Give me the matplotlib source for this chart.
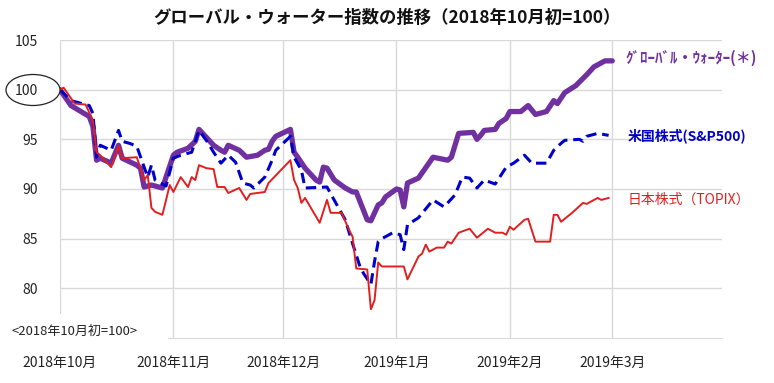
#!/usr/bin/env python3
"""Global water index vs. S&P500 / TOPIX, rebased to 100 at the start of Oct 2018."""

import matplotlib

matplotlib.use("Agg")
import matplotlib.pyplot as plt
from matplotlib.patches import Ellipse, Rectangle
import pandas as pd

plt.rcParams["font.family"] = ["Noto Sans CJK JP", "DejaVu Sans"]

GW_DATES = [
    "2018-10-01", "2018-10-04", "2018-10-09", "2018-10-10", "2018-10-11", "2018-10-12",
    "2018-10-15", "2018-10-17", "2018-10-18", "2018-10-22", "2018-10-23", "2018-10-24",
    "2018-10-26", "2018-10-29", "2018-11-01", "2018-11-02", "2018-11-05", "2018-11-07",
    "2018-11-08", "2018-11-09", "2018-11-12", "2018-11-14", "2018-11-15", "2018-11-16",
    "2018-11-19", "2018-11-21", "2018-11-24", "2018-11-26", "2018-11-27", "2018-11-28",
    "2018-11-29", "2018-12-03", "2018-12-04", "2018-12-05", "2018-12-07", "2018-12-10",
    "2018-12-11", "2018-12-12", "2018-12-13", "2018-12-15", "2018-12-18", "2018-12-20",
    "2018-12-21", "2018-12-24", "2018-12-25", "2018-12-27", "2018-12-28", "2018-12-29",
    "2019-01-01", "2019-01-02", "2019-01-03", "2019-01-04", "2019-01-07", "2019-01-11",
    "2019-01-15", "2019-01-16", "2019-01-18", "2019-01-22", "2019-01-23", "2019-01-24",
    "2019-01-25", "2019-01-28", "2019-01-29", "2019-01-31", "2019-02-01", "2019-02-04",
    "2019-02-06", "2019-02-08", "2019-02-11", "2019-02-13", "2019-02-14", "2019-02-16",
    "2019-02-19", "2019-02-22", "2019-02-24", "2019-02-27", "2019-03-01",
]
GW_VALUES = [
    100.0, 98.4, 97.3, 96.3, 92.9, 93.1,
    92.6, 94.4, 93.1, 92.4, 92.1, 90.2,
    90.4, 90.1, 93.4, 93.7, 94.1, 94.8,
    96.0, 95.6, 94.4, 93.9, 93.7, 94.4,
    93.9, 93.2, 93.4, 93.9, 94.0, 94.8,
    95.3, 96.0, 93.7, 93.2, 92.1, 90.9,
    90.7, 92.2, 92.1, 90.9, 90.1, 89.7,
    89.7, 86.9, 86.8, 88.4, 88.6, 89.2,
    90.0, 89.9, 88.2, 90.6, 91.1, 93.2,
    92.9, 93.2, 95.6, 95.7, 95.0, 95.4,
    95.9, 96.0, 96.6, 97.1, 97.8, 97.8,
    98.4, 97.5, 97.8, 98.9, 98.6, 99.7,
    100.4, 101.5, 102.3, 102.9, 102.9,
]

SP_DATES = [
    "2018-10-01", "2018-10-04", "2018-10-09", "2018-10-10", "2018-10-11", "2018-10-12",
    "2018-10-15", "2018-10-17", "2018-10-18", "2018-10-20", "2018-10-22", "2018-10-24",
    "2018-10-25", "2018-10-26", "2018-10-27", "2018-10-30", "2018-11-01", "2018-11-03",
    "2018-11-06", "2018-11-08", "2018-11-10", "2018-11-12", "2018-11-14", "2018-11-16",
    "2018-11-18", "2018-11-20", "2018-11-22", "2018-11-23", "2018-11-26", "2018-11-28",
    "2018-11-29", "2018-12-03", "2018-12-04", "2018-12-06", "2018-12-07", "2018-12-13",
    "2018-12-16", "2018-12-18", "2018-12-20", "2018-12-22", "2018-12-23", "2018-12-25",
    "2018-12-26", "2018-12-27", "2018-12-28", "2018-12-31", "2019-01-02", "2019-01-03",
    "2019-01-04", "2019-01-07", "2019-01-11", "2019-01-14", "2019-01-17", "2019-01-19",
    "2019-01-21", "2019-01-23", "2019-01-25", "2019-01-28", "2019-01-31", "2019-02-02",
    "2019-02-05", "2019-02-07", "2019-02-11", "2019-02-13", "2019-02-15", "2019-02-16",
    "2019-02-20", "2019-02-21", "2019-02-22", "2019-02-25", "2019-02-28",
]
SP_VALUES = [
    100.0, 98.9, 98.4, 97.6, 93.2, 94.4,
    93.9, 95.9, 94.8, 94.6, 94.3, 92.2,
    91.2, 92.4, 90.9, 90.3, 93.1, 93.4,
    93.7, 95.9, 94.9, 93.7, 92.6, 93.4,
    92.7, 90.6, 90.4, 90.1, 91.2, 92.9,
    93.9, 95.3, 93.2, 91.9, 90.1, 90.2,
    88.2, 86.9, 84.5, 82.2, 81.5, 80.4,
    82.7, 84.7, 85.0, 85.6, 85.4, 83.9,
    86.4, 87.1, 88.9, 88.2, 89.4, 91.2,
    91.1, 90.1, 90.9, 90.5, 92.2, 92.6,
    93.4, 92.6, 92.6, 93.9, 94.6, 94.9,
    95.0, 94.8, 95.3, 95.6, 95.4,
]

TOPIX_DATES = [
    "2018-10-01", "2018-10-02", "2018-10-05", "2018-10-08", "2018-10-10", "2018-10-11",
    "2018-10-12", "2018-10-15", "2018-10-17", "2018-10-18", "2018-10-22", "2018-10-24",
    "2018-10-25", "2018-10-26", "2018-10-27", "2018-10-29", "2018-10-31", "2018-11-01",
    "2018-11-03", "2018-11-05", "2018-11-06", "2018-11-07", "2018-11-08", "2018-11-10",
    "2018-11-12", "2018-11-13", "2018-11-15", "2018-11-16", "2018-11-19", "2018-11-21",
    "2018-11-22", "2018-11-26", "2018-11-27", "2018-12-03", "2018-12-04", "2018-12-05",
    "2018-12-06", "2018-12-07", "2018-12-11", "2018-12-13", "2018-12-14", "2018-12-17",
    "2018-12-19", "2018-12-20", "2018-12-21", "2018-12-24", "2018-12-25", "2018-12-26",
    "2018-12-27", "2018-12-28", "2019-01-03", "2019-01-04", "2019-01-07", "2019-01-08",
    "2019-01-09", "2019-01-10", "2019-01-12", "2019-01-14", "2019-01-15", "2019-01-16",
    "2019-01-18", "2019-01-21", "2019-01-23", "2019-01-26", "2019-01-28", "2019-01-30",
    "2019-01-31", "2019-02-01", "2019-02-02", "2019-02-05", "2019-02-06", "2019-02-08",
    "2019-02-12", "2019-02-13", "2019-02-14", "2019-02-15", "2019-02-18", "2019-02-21",
    "2019-02-22", "2019-02-25", "2019-02-26", "2019-02-28",
]
TOPIX_VALUES = [
    100.0, 100.2, 98.6, 98.5, 96.9, 93.7,
    93.4, 92.2, 94.3, 93.1, 93.2, 90.9,
    91.4, 88.1, 87.7, 87.4, 90.4, 89.7,
    91.2, 90.2, 91.2, 90.9, 92.4, 92.1,
    92.0, 90.2, 90.2, 89.6, 90.1, 88.9,
    89.5, 89.7, 90.6, 92.9, 90.9, 90.1,
    88.6, 89.1, 86.6, 88.9, 87.6, 87.6,
    85.9, 85.2, 82.0, 81.9, 77.9, 78.8,
    82.6, 82.2, 82.2, 80.9, 83.2, 83.5,
    84.4, 83.7, 84.1, 84.1, 84.7, 84.5,
    85.6, 86.0, 85.1, 86.0, 85.6, 85.6,
    85.4, 86.2, 85.9, 86.9, 87.0, 84.7,
    84.7, 87.4, 87.4, 86.7, 87.6, 88.6,
    88.5, 89.1, 88.9, 89.1,
]

MONTHS = ["2018-10-01", "2018-11-01", "2018-12-01", "2019-01-01", "2019-02-01", "2019-03-01"]
MONTH_LABELS = ["2018年10月", "2018年11月", "2018年12月", "2019年1月", "2019年2月", "2019年3月"]
Y_TICKS = [80, 85, 90, 95, 100, 105]

GW_LABEL = "ｸﾞﾛｰﾊﾞﾙ・ｳｫｰﾀｰ(＊)"
SP_LABEL = "米国株式(S&P500)"
TOPIX_LABEL = "日本株式（TOPIX）"

PURPLE = "#7030A0"
BLUE = "#0000C8"
RED = "#E02020"
GRID = "#D9D9D9"

W, H = 774, 383


def main() -> None:
    fig = plt.figure(figsize=(W / 100, H / 100), dpi=100)
    ax = fig.add_axes([60 / W, 1 - 338 / H, (722 - 60) / W, (338 - 40) / H])

    ax.plot(pd.to_datetime(GW_DATES), GW_VALUES, color=PURPLE, lw=3.8,
            solid_joinstyle="round", solid_capstyle="round", zorder=3)
    ax.plot(pd.to_datetime(SP_DATES), SP_VALUES, color=BLUE, lw=2.2,
            dashes=(3.4, 1.9), zorder=4)
    ax.plot(pd.to_datetime(TOPIX_DATES), TOPIX_VALUES, color=RED, lw=1.4, zorder=5)

    ax.set_xlim(pd.Timestamp("2018-10-01"), pd.Timestamp("2019-03-31"))
    ax.set_ylim(75, 105)
    ax.set_yticks(Y_TICKS)
    ax.set_xticks(pd.to_datetime(MONTHS))
    ax.set_xticklabels(MONTH_LABELS)
    ax.tick_params(axis="both", length=0, labelsize=10, colors="#222222")
    ax.tick_params(axis="x", pad=13)
    ax.tick_params(axis="y", pad=16)
    ax.grid(True, color=GRID, lw=1.0)
    ax.set_axisbelow(True)
    for side in ("top", "right", "left"):
        ax.spines[side].set_visible(False)
    ax.spines["bottom"].set_color(GRID)

    # series names at the right end of each line
    ax.text(625 / W, 1 - 58 / H, GW_LABEL, transform=fig.transFigure, color=PURPLE,
            fontsize=10.8, fontweight="bold", va="center", ha="left")
    ax.text(628 / W, 1 - 136 / H, SP_LABEL, transform=fig.transFigure, color=BLUE,
            fontsize=10, fontweight="bold", va="center", ha="left")
    ax.text(628 / W, 1 - 200 / H, TOPIX_LABEL, transform=fig.transFigure, color=RED,
            fontsize=10, va="center", ha="left")

    # circle round the 100 tick label
    fig.add_artist(Ellipse((33 / W, 1 - 90 / H), 54 / W, 31 / H, transform=fig.transFigure,
                           fill=False, edgecolor="#222222", lw=0.9))

    # base note, on a white box that hides the corner of the grid
    fig.add_artist(Rectangle((0, 1 - 348 / H), 168 / W, 34 / H, transform=fig.transFigure,
                             facecolor="white", edgecolor="none", zorder=5))
    fig.text(12 / W, 1 - 331 / H, "<2018年10月初=100>", fontsize=9.4, va="center",
             ha="left", color="#222222", zorder=6)

    fig.text(0.5, 1 - 18 / H, "グローバル・ウォーター指数の推移（2018年10月初=100）",
             ha="center", va="center", fontsize=12.5, fontweight="bold", color="#111111")

    fig.savefig("out.png", dpi=100)


if __name__ == "__main__":
    main()
